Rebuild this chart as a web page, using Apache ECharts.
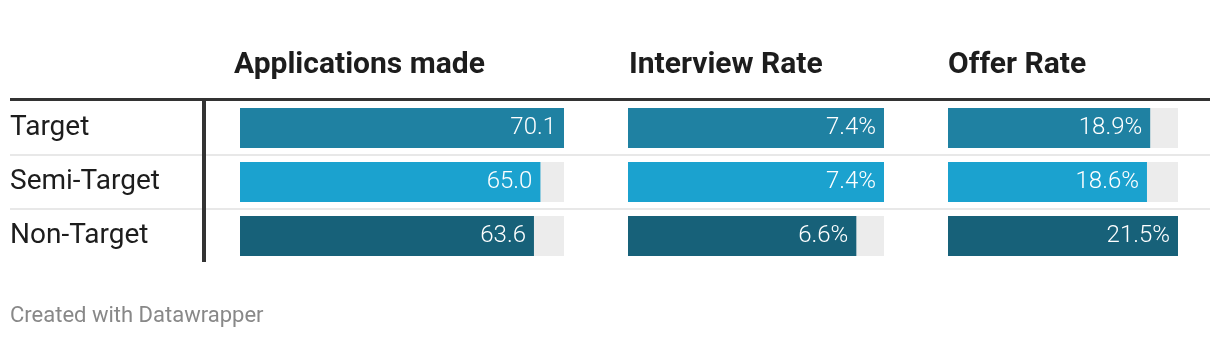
<!DOCTYPE html>
<html>
<head>
<meta charset="utf-8">
<script src="https://cdn.jsdelivr.net/npm/echarts@6/dist/echarts.min.js"></script>
<style>
  html, body { margin: 0; padding: 0; background: #ffffff; }
  #chart { width: 1220px; height: 338px; }
</style>
</head>
<body>
<div id="chart"></div>
<script>
// Row categories and column headers
const categories = ['Target', 'Semi-Target', 'Non-Target'];
const columnTitles = ['Applications made', 'Interview Rate', 'Offer Rate'];

// Values per column, in category order
const applications = [70.1, 65.0, 63.6];
const interviewRate = [7.4, 7.4, 6.6];
const offerRate = [18.9, 18.6, 21.5];
const valueSuffix = ['', '%', '%'];

const rowColors = ['#1f81a2', '#1ba2cf', '#176179'];

// Table layout
const FONT = 'Roboto, "Noto Sans", sans-serif';
const tableTop = 101;
const rowHeight = 54;
const tableHeight = rowHeight * categories.length;
const columnsLayout = [
  { left: 240, width: 324, titleLeft: 234 },
  { left: 628, width: 256, titleLeft: 629 },
  { left: 948, width: 230, titleLeft: 948 }
];
const columnValues = [applications, interviewRate, offerRate];

const chart = echarts.init(document.getElementById('chart'), null, { renderer: 'canvas' });

const grids = columnsLayout.map(c => ({
  left: c.left, width: c.width, top: tableTop, height: tableHeight, containLabel: false
}));

const xAxes = columnValues.map((vals, i) => ({
  type: 'value', gridIndex: i, min: 0, max: Math.max(...vals), show: false
}));

const yAxes = columnValues.map((vals, i) => ({
  type: 'category', gridIndex: i, data: categories, inverse: true,
  axisLine: { show: false }, axisTick: { show: false }, splitLine: { show: false },
  axisLabel: i === 0 ? {
    show: true, align: 'left', margin: columnsLayout[0].left - 10,
    padding: [4, 0, 0, 0],
    fontFamily: FONT, fontSize: 28, color: '#1d1d1d'
  } : { show: false }
}));

const series = columnValues.map((vals, i) => ({
  type: 'bar', xAxisIndex: i, yAxisIndex: i, barWidth: 40,
  showBackground: true, backgroundStyle: { color: '#ececec' },
  data: vals.map((v, r) => ({ value: v, itemStyle: { color: rowColors[r] } })),
  label: {
    show: true, position: 'insideRight', distance: 8,
    formatter: p => p.value.toFixed(1) + valueSuffix[i],
    color: '#ffffff', fontFamily: FONT, fontSize: 24, fontWeight: 300
  },
  silent: true, animation: false
}));

const titles = columnTitles.map((t, i) => ({
  text: t, left: columnsLayout[i].titleLeft, top: 50,
  textStyle: { fontFamily: FONT, fontSize: 30, fontWeight: 'bold', color: '#1d1d1d' },
  padding: 0
}));
titles.push({
  text: 'Created with Datawrapper', left: 10, top: 305, padding: 0,
  textStyle: { fontFamily: FONT, fontSize: 22, fontWeight: 'normal', color: '#888888' }
});

// Rules: header rule, row separators, row-label divider
const graphics = [];
for (let r = 1; r < categories.length; r++) {
  const y = tableTop + rowHeight * r;
  graphics.push({
    type: 'line', shape: { x1: 10, y1: y, x2: 1210, y2: y },
    style: { stroke: '#e8e8e8', lineWidth: 2 }, silent: true, z: 1
  });
}
graphics.push({
  type: 'line', shape: { x1: 204, y1: tableTop, x2: 204, y2: tableTop + tableHeight - 1 },
  style: { stroke: '#333333', lineWidth: 4 }, silent: true, z: 2
});
graphics.push({
  type: 'line', shape: { x1: 10, y1: tableTop - 1.5, x2: 1210, y2: tableTop - 1.5 },
  style: { stroke: '#333333', lineWidth: 3 }, silent: true, z: 3
});

chart.setOption({
  backgroundColor: '#ffffff',
  animation: false,
  title: titles,
  grid: grids,
  xAxis: xAxes,
  yAxis: yAxes,
  series: series,
  graphic: graphics
});
</script>
</body>
</html>
